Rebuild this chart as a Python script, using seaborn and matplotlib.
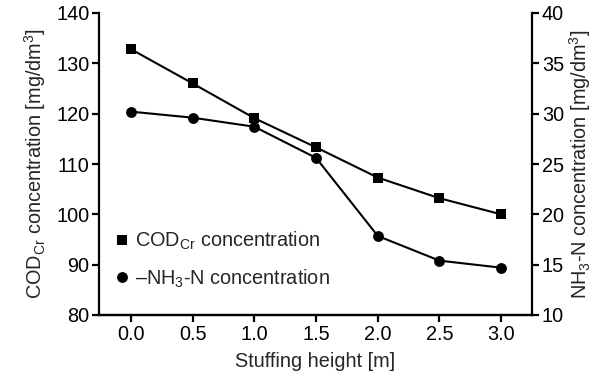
import matplotlib
matplotlib.use("Agg")
import matplotlib.pyplot as plt
import seaborn as sns
import pandas as pd
from matplotlib.lines import Line2D

sns.set_theme(style="ticks")
plt.rcParams['font.family'] = ['Liberation Sans', 'DejaVu Sans']
plt.rcParams['mathtext.fontset'] = 'custom'
plt.rcParams['mathtext.rm'] = 'Liberation Sans'
plt.rcParams['mathtext.it'] = 'Liberation Sans'
plt.rcParams['mathtext.default'] = 'rm'

height = [0.0, 0.5, 1.0, 1.5, 2.0, 2.5, 3.0]
cod = [132.8, 126.0, 119.1, 113.3, 107.3, 103.2, 100.0]
nh3 = [30.2, 29.6, 28.7, 25.6, 17.85, 15.4, 14.7]
xticks = [0.0, 0.5, 1.0, 1.5, 2.0, 2.5, 3.0]

df = pd.DataFrame({"height": height, "cod": cod, "nh3": nh3})

fig = plt.figure(figsize=(5.94, 3.82), dpi=100)
ax = fig.add_axes([99/594, 1-315/382, (532-99)/594, (315-13)/382])
ax2 = ax.twinx()

fs = 14.3
sns.lineplot(data=df, x="height", y="cod", ax=ax, color="black", lw=1.5,
             marker="s", markersize=6.5, markeredgewidth=0)
sns.lineplot(data=df, x="height", y="nh3", ax=ax2, color="black", lw=1.5,
             marker="o", markersize=7.8, markeredgewidth=0)

ax.set_xlim(-0.26, 3.25)
ax.set_ylim(80, 140)
ax2.set_ylim(10, 40)
ax.set_xticks(xticks)
ax.set_xticklabels([f"{v:.1f}" for v in xticks])
ax.set_yticks(range(80, 141, 10))
ax2.set_yticks(range(10, 41, 5))

for a in (ax, ax2):
    a.spines['top'].set_visible(False)
    for s in a.spines.values():
        s.set_linewidth(1.6)
        s.set_color('black')
    a.tick_params(width=1.6, length=5, labelsize=fs, colors='black', direction='out', pad=2)
ax2.spines['left'].set_visible(False)
ax.spines['right'].set_visible(False)

ax.set_xlabel("Stuffing height [m]", fontsize=fs, labelpad=6)
ax.set_ylabel(r"COD$_{\mathrm{Cr}}$ concentration [mg/dm$^{3}$]", fontsize=fs, labelpad=6)
ax2.set_ylabel(r"NH$_{3}$-N concentration [mg/dm$^{3}$]", fontsize=fs, labelpad=2)

handles = [Line2D([], [], color='black', marker='s', linestyle='none', markersize=6.5, markeredgewidth=0),
           Line2D([], [], color='black', marker='o', linestyle='none', markersize=7.8, markeredgewidth=0)]
labels = [r"COD$_{\mathrm{Cr}}$ concentration", r"–NH$_{3}$-N concentration"]
ax.legend(handles, labels, loc='lower left', bbox_to_anchor=(-0.005, 0.025), frameon=False,
          fontsize=fs, handlelength=0.7, handletextpad=0.3, labelspacing=0.75)

fig.savefig("out.png", dpi=100)
